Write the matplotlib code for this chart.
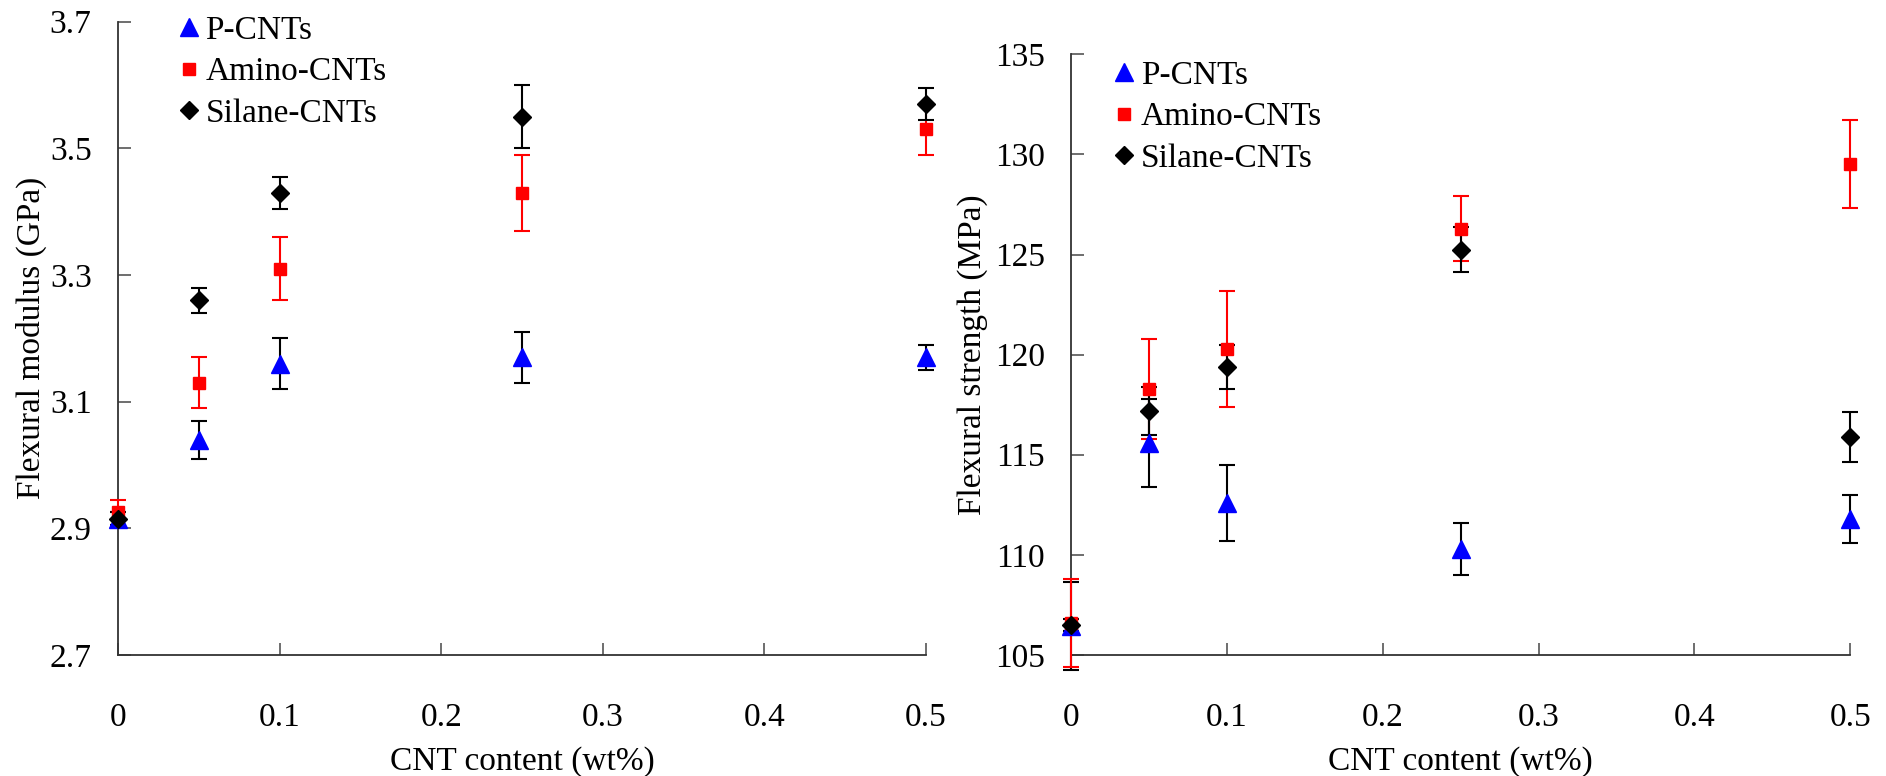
import numpy as np
import matplotlib
matplotlib.use("Agg")
import matplotlib.pyplot as plt
from matplotlib.lines import Line2D
from matplotlib.ticker import FormatStrFormatter, FuncFormatter

plt.rcParams['font.family'] = ['Liberation Serif', 'DejaVu Serif']

# CNT content (wt%)
content = [0, 0.05, 0.1, 0.25, 0.5]
series = ['P-CNTs', 'Amino-CNTs', 'Silane-CNTs']

# flexural modulus (GPa) and error
mod_p = [2.915, 3.04, 3.16, 3.17, 3.17]
mod_p_err = [0.01, 0.03, 0.04, 0.04, 0.02]
mod_amino = [2.925, 3.13, 3.31, 3.43, 3.53]
mod_amino_err = [0.02, 0.04, 0.05, 0.06, 0.04]
mod_silane = [2.915, 3.26, 3.43, 3.55, 3.57]
mod_silane_err = [0.01, 0.02, 0.025, 0.05, 0.025]

# flexural strength (MPa) and error
str_p = [106.45, 115.6, 112.6, 110.3, 111.8]
str_p_err = [2.2, 2.2, 1.9, 1.3, 1.2]
str_amino = [106.6, 118.3, 120.3, 126.3, 129.5]
str_amino_err = [2.2, 2.5, 2.9, 1.6, 2.2]
str_silane = [106.5, 117.2, 119.4, 125.25, 115.9]
str_silane_err = [0.3, 1.2, 1.1, 1.1, 1.25]

styles = [
    dict(marker='^', color='#0000ff', ecolor='black', ms=12.5),
    dict(marker='s', color='#ff0000', ecolor='#ff0000', ms=9),
    dict(marker='D', color='black', ecolor='black', ms=9),
]

fig = plt.figure(figsize=(18.86, 7.76), dpi=100)
ax1 = fig.add_axes([0.0626, 0.156, 0.4284, 0.816])
ax2 = fig.add_axes([0.568, 0.156, 0.413, 0.774])

def draw(ax, vals, errs, ylim, yticks, yfmt, ylabel, ylabelpad, leg_anchor):
    handles = []
    for name, v, e, st in zip(series, vals, errs, styles):
        eb = ax.errorbar(content, v, yerr=e, fmt=st['marker'], color=st['color'],
                         ms=st['ms'], ecolor=st['ecolor'], elinewidth=1.5,
                         capsize=6, capthick=1.5, clip_on=False, zorder=3)
        for part in list(eb.lines[1]) + list(eb.lines[2]):
            part.set_clip_on(False)
        handles.append(Line2D([], [], linestyle='none', marker=st['marker'],
                              color=st['color'], ms=st['ms'], label=name))
    ax.set_xlim(0, 0.5)
    ax.set_ylim(*ylim)
    ax.set_yticks(yticks)
    ax.set_xticks(np.arange(0, 0.51, 0.1))
    ax.xaxis.set_major_formatter(FuncFormatter(lambda x, p: '%g' % round(x, 2)))
    ax.yaxis.set_major_formatter(FormatStrFormatter(yfmt))
    for s in ['top', 'right']:
        ax.spines[s].set_visible(False)
    for s in ['left', 'bottom']:
        ax.spines[s].set_color('#333333')
        ax.spines[s].set_linewidth(1.3)
    ax.tick_params(axis='both', direction='in', length=9, width=1.2,
                   color='#555555', labelsize=24)
    ax.tick_params(axis='x', pad=34)
    ax.tick_params(axis='y', pad=19)
    ax.set_xlabel('CNT content (wt%)', fontsize=24, labelpad=10)
    ax.set_ylabel(ylabel, fontsize=24, labelpad=ylabelpad)
    ax.legend(handles=handles, loc='upper left', bbox_to_anchor=leg_anchor,
              frameon=False, fontsize=24, handlelength=0.6, handletextpad=0.2,
              labelspacing=0.33, borderpad=0, borderaxespad=0)

draw(ax1, [mod_p, mod_amino, mod_silane],
     [mod_p_err, mod_amino_err, mod_silane_err],
     (2.7, 3.7), np.arange(2.7, 3.71, 0.2), '%.1f',
     'Flexural modulus (GPa)', 2, (0.075, 1.01))
draw(ax2, [str_p, str_amino, str_silane],
     [str_p_err, str_amino_err, str_silane_err],
     (105, 135), np.arange(105, 136, 5), '%d',
     'Flexural strength (MPa)', 5, (0.055, 0.99))

fig.savefig('out.png', dpi=100, facecolor='white')
